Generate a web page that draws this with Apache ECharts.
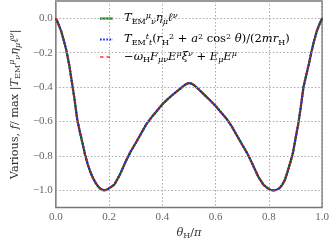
<!DOCTYPE html>
<html>
<head>
<meta charset="utf-8">
<script src="https://cdn.jsdelivr.net/npm/echarts@6/dist/echarts.min.js"></script>
<style>
html,body{margin:0;padding:0;background:#fff;}
#chart{width:332px;height:245px;}
</style>
</head>
<body>
<div id="chart"></div>
<script>
// theta_H / pi
var theta = [0,0.01,0.02,0.03,0.04,0.05,0.06,0.07,0.08,0.09,0.10,0.11,0.12,0.13,0.14,0.15,0.16,0.17,0.18,0.19,0.20,0.22,0.24,0.26,0.28,0.30,0.32,0.34,0.36,0.38,0.40,0.42,0.44,0.46,0.48,0.49,0.50,0.51,0.52,0.54,0.56,0.58,0.60,0.62,0.64,0.66,0.68,0.70,0.72,0.74,0.76,0.78,0.80,0.81,0.82,0.83,0.84,0.85,0.86,0.87,0.88,0.89,0.90,0.91,0.92,0.93,0.94,0.95,0.96,0.97,0.98,0.99,1.00];
// normalised values (all three curves coincide)
var fTEM = [0,-0.035,-0.075,-0.13,-0.19,-0.27,-0.37,-0.47,-0.585,-0.66,-0.725,-0.795,-0.85,-0.895,-0.93,-0.958,-0.98,-0.994,-1.0,-0.997,-0.988,-0.966,-0.91,-0.84,-0.777,-0.725,-0.67,-0.615,-0.574,-0.537,-0.5,-0.47,-0.443,-0.418,-0.393,-0.382,-0.376,-0.38,-0.39,-0.418,-0.448,-0.478,-0.51,-0.546,-0.582,-0.627,-0.681,-0.735,-0.788,-0.853,-0.92,-0.968,-0.993,-0.999,-1.0,-0.996,-0.987,-0.968,-0.94,-0.892,-0.84,-0.785,-0.70,-0.617,-0.515,-0.40,-0.333,-0.267,-0.195,-0.13,-0.075,-0.035,0];
var fTtt = fTEM.slice();
var fOmega = fTEM.slice();
var xTicks = [0,0.2,0.4,0.6,0.8,1.0];
var yTicks = [0,-0.2,-0.4,-0.6,-0.8,-1.0];
var seriesNames = ['TEM','Ttt','omega'];

function pairs(xs, ys){ return xs.map(function(x,i){ return [x, ys[i]]; }); }

var SERIF = '"DejaVu Serif", "Liberation Serif", serif';
var TICKF = '"Liberation Serif", serif';
var rich = {
  i: {fontFamily: SERIF, fontStyle: 'italic', fontSize: 11.5, lineHeight: 14, color: '#000'},
  r: {fontFamily: SERIF, fontSize: 11.5, lineHeight: 14, color: '#000'},
  sb: {fontFamily: SERIF, fontSize: 8, lineHeight: 8, verticalAlign: 'bottom', color: '#000'},
  sbi: {fontFamily: SERIF, fontStyle: 'italic', fontSize: 8, lineHeight: 8, verticalAlign: 'bottom', color: '#000'},
  sp: {fontFamily: SERIF, fontSize: 8, lineHeight: 8, verticalAlign: 'top', color: '#000'},
  spi: {fontFamily: SERIF, fontStyle: 'italic', fontSize: 8, lineHeight: 8, verticalAlign: 'top', color: '#000'},
  gap: {width: 6, fontSize: 11, lineHeight: 14}
};
var yrich = {
  i: {fontFamily: SERIF, fontStyle: 'italic', fontSize: 11.3, lineHeight: 14, color: '#333'},
  r: {fontFamily: SERIF, fontSize: 11.3, lineHeight: 14, color: '#333'},
  sb: {fontFamily: SERIF, fontSize: 8, lineHeight: 8, verticalAlign: 'bottom', color: '#333'},
  sbi: {fontFamily: SERIF, fontStyle: 'italic', fontSize: 8, lineHeight: 8, verticalAlign: 'bottom', color: '#333'},
  spi: {fontFamily: SERIF, fontStyle: 'italic', fontSize: 8, lineHeight: 8, verticalAlign: 'top', color: '#333'}
};
var labels = {
  TEM: '{gap| }{i|T}{sb|EM}{spi|μ}{sbi|ν}{i|η}{sbi|μ}{i|ℓ}{spi|ν}',
  Ttt: '{gap| }{i|T}{sb|EM}{spi|t}{sbi|t}{r|(}{i|r}{sb|H}{sp|2}{r| + }{i|a}{sp|2}{r| cos}{sp|2}{r| }{i|θ}{r|)/(2}{i|mr}{sb|H}{r|)}',
  omega: '{gap| }{r|−}{i|ω}{sb|H}{i|F}{sbi|μν}{i|E}{spi|μ}{i|ξ}{spi|ν}{r| + }{i|E}{sbi|μ}{i|E}{spi|μ}'
};
var legendTops = [11.5, 32.5, 50];

function makeLegend(name, idx){
  return {
    orient: 'vertical', left: 99, top: legendTops[idx], itemWidth: 13, itemHeight: 10, padding: 0,
    data: [name],
    formatter: function(n){ return labels[n]; },
    itemStyle: {color: 'transparent', borderColor: 'transparent', borderWidth: 0, opacity: 0},
    textStyle: {rich: rich, fontSize: 11.5, lineHeight: 14},
    selectedMode: false
  };
}

var chart = echarts.init(document.getElementById('chart'));
var gridStyle = {color: '#aaa', type: [1.5, 2], width: 1};
chart.setOption({
  animation: false,
  backgroundColor: '#fff',
  grid: {left: 44, right: 8.5, top: 1, bottom: 28, show: true, borderColor: '#777', borderWidth: 1.5, backgroundColor: 'transparent'},
  legend: seriesNames.map(makeLegend),
  xAxis: {
    type: 'value', min: 0, max: 1, interval: 0.2,
    axisLine: {show: false}, axisTick: {show: false},
    splitLine: {show: true, lineStyle: gridStyle},
    axisLabel: {fontFamily: TICKF, fontSize: 11, color: '#666', margin: 4,
      formatter: function(v){ return v.toFixed(1); }},
    name: '{i|θ}{sb|H}{r|/}{i|π}', nameLocation: 'middle', nameGap: 17,
    nameTextStyle: {rich: yrich}
  },
  yAxis: {
    type: 'value', min: -1.1, max: 0.1,
    axisLine: {show: false}, axisTick: {show: false},
    splitLine: {show: false},
    axisLabel: {fontFamily: TICKF, fontSize: 11, color: '#666', margin: 3,
      customValues: yTicks,
      formatter: function(v){ var s = Math.abs(v).toFixed(1); return (v < -1e-9 ? '−' : '') + s; }},
    name: '{r|Various, }{i|f}{r|/ max |}{i|T}{sb|EM}{spi|μ}{sbi|ν}{i|η}{sbi|μ}{i|ℓ}{spi|ν}{r||}',
    nameLocation: 'middle', nameGap: 33,
    nameTextStyle: {rich: yrich}
  },
  series: [
    {name: '_grid', type: 'line', data: [], silent: true, z: 1,
      markLine: {silent: true, symbol: 'none', label: {show: false}, lineStyle: gridStyle,
        data: yTicks.map(function(v){ return {yAxis: v}; })}},
    {name: 'TEM', type: 'line', data: pairs(theta, fTEM), symbol: 'none', z: 3,
      lineStyle: {color: '#008000', width: 2.2, type: 'solid'}, itemStyle: {color: '#008000'}},
    {name: 'Ttt', type: 'line', data: pairs(theta, fTtt), symbol: 'none', z: 4,
      lineStyle: {color: '#1a1aff', width: 2.2, type: [1.6, 1.6]}, itemStyle: {color: '#1a1aff'}},
    {name: 'omega', type: 'line', data: pairs(theta, fOmega), symbol: 'none', z: 5,
      lineStyle: {color: '#ff0000', width: 2, type: [3.5, 3], opacity: 0.6}, itemStyle: {color: '#ff8080'}}
  ]
});
</script>
</body>
</html>
